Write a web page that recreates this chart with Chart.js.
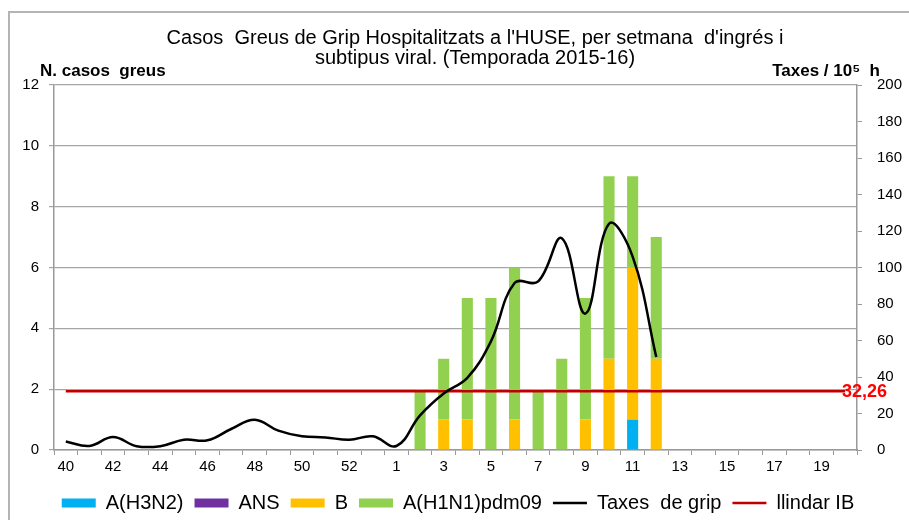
<!DOCTYPE html>
<html><head><meta charset="utf-8">
<script src="https://cdn.jsdelivr.net/npm/chart.js@4/dist/chart.umd.min.js"></script>
<style>html,body{margin:0;padding:0;background:#fff;overflow:hidden}#wrap{width:909px;height:520px;position:relative}</style>
</head><body><div id="wrap"><canvas id="c" width="909" height="520"></canvas></div>
<script>
const weeks = ['40','41','42','43','44','45','46','47','48','49','50','51','52','53',
  '1','2','3','4','5','6','7','8','9','10','11','12','13','14','15','16','17','18','19','20'];
const tickLabels = ['40','42','44','46','48','50','52','1','3','5','7','9','11','13','15','17','19'];
const seriesNames = ['A(H3N2)','ANS','B','A(H1N1)pdm09','Taxes  de grip','llindar IB'];
//                 40 41 42 43 44 45 46 47 48 49 50 51 52 53  1  2  3  4  5  6  7  8  9 10 11 12 13 14 15 16 17 18 19 20
const h3n2     = [ 0, 0, 0, 0, 0, 0, 0, 0, 0, 0, 0, 0, 0, 0, 0, 0, 0, 0, 0, 0, 0, 0, 0, 0, 1, 0, 0, 0, 0, 0, 0, 0, 0, 0];
const ans      = [ 0, 0, 0, 0, 0, 0, 0, 0, 0, 0, 0, 0, 0, 0, 0, 0, 0, 0, 0, 0, 0, 0, 0, 0, 0, 0, 0, 0, 0, 0, 0, 0, 0, 0];
const virusB   = [ 0, 0, 0, 0, 0, 0, 0, 0, 0, 0, 0, 0, 0, 0, 0, 0, 1, 1, 0, 1, 0, 0, 1, 3, 5, 3, 0, 0, 0, 0, 0, 0, 0, 0];
const h1n1     = [ 0, 0, 0, 0, 0, 0, 0, 0, 0, 0, 0, 0, 0, 0, 0, 2, 2, 4, 5, 5, 2, 3, 4, 6, 3, 4, 0, 0, 0, 0, 0, 0, 0, 0];
const taxes    = [4.7, 2.2, 7.1, 2.1, 2.1, 5.6, 5.3, 11.5, 16.6, 10.6, 7.5, 6.9, 5.6, 7.5,
                  2.2, 19, 31, 39.5, 59.5, 91.5, 92.4, 116, 74.7, 124, 106, 51,
                  null, null, null, null, null, null, null, null];
const llindar  = [32.26, 32.26, 32.26, 32.26, 32.26, 32.26, 32.26, 32.26, 32.26, 32.26, 32.26, 32.26, 32.26, 32.26,
                  32.26, 32.26, 32.26, 32.26, 32.26, 32.26, 32.26, 32.26, 32.26, 32.26, 32.26, 32.26, 32.26, 32.26,
                  32.26, 32.26, 32.26, 32.26, 32.26, 32.26];
const llindarLabel = '32,26';
const titleLines = ["Casos  Greus de Grip Hospitalitzats a l'HUSE, per setmana  d'ingrés i", "subtipus viral. (Temporada 2015-16)"];
const leftTitle = 'N. casos  greus';
const rightTitle = 'Taxes / 10\u2075  h';

const FAM = '"Liberation Sans", Arial, sans-serif';
Chart.defaults.font.family = FAM;
Chart.defaults.color = '#000';

const decor = {
  id: 'decor',
  beforeDraw(chart) {
    const ctx = chart.ctx;
    ctx.save();
    ctx.strokeStyle = '#b4b4b4';
    ctx.lineWidth = 2;
    ctx.beginPath();
    ctx.moveTo(909, 12); ctx.lineTo(9, 12); ctx.lineTo(9, 520);
    ctx.stroke();
    ctx.restore();
  },
  afterDraw(chart) {
    const ctx = chart.ctx;
    ctx.save();
    ctx.fillStyle = '#000';
    ctx.textBaseline = 'middle';
    ctx.textAlign = 'center';
    ctx.font = '20px ' + FAM;
    ctx.fillText(titleLines[0], 475, 38);
    ctx.fillText(titleLines[1], 475, 58);
    ctx.font = 'bold 17px ' + FAM;
    ctx.textAlign = 'left';
    ctx.fillText(leftTitle, 40, 71);
    ctx.textAlign = 'right';
    ctx.fillText(rightTitle, 880, 71);
    const y1 = chart.scales.y1;
    ctx.fillStyle = '#ff0000';
    ctx.textAlign = 'left';
    ctx.font = 'bold 18px ' + FAM;
    ctx.fillText(llindarLabel, 842, y1.getPixelForValue(llindar[0]) + 1);
    ctx.restore();
  }
};

const barCommon = {type: 'bar', yAxisID: 'y', barPercentage: 0.47, categoryPercentage: 1, borderWidth: 0, order: 1, pointStyle: 'rect'};
new Chart(document.getElementById('c'), {
  type: 'bar',
  data: {
    labels: weeks,
    datasets: [
      Object.assign({label: seriesNames[0], data: h3n2, backgroundColor: '#00b0f0', borderColor: '#00b0f0'}, barCommon),
      Object.assign({label: seriesNames[1], data: ans, backgroundColor: '#7030a0', borderColor: '#7030a0'}, barCommon),
      Object.assign({label: seriesNames[2], data: virusB, backgroundColor: '#ffc000', borderColor: '#ffc000'}, barCommon),
      Object.assign({label: seriesNames[3], data: h1n1, backgroundColor: '#92d050', borderColor: '#92d050'}, barCommon),
      {type: 'line', label: seriesNames[4], data: taxes, yAxisID: 'y1', borderColor: '#000', backgroundColor: '#000',
       borderWidth: 2.5, pointRadius: 0, tension: 0.4, fill: false, order: 0, pointStyle: 'line'},
      {type: 'line', label: seriesNames[5], data: llindar, yAxisID: 'y1', borderColor: '#c00000', backgroundColor: '#c00000',
       borderWidth: 2.5, pointRadius: 0, tension: 0, fill: false, order: 0, pointStyle: 'line'}
    ]
  },
  options: {
    responsive: false,
    animation: false,
    events: [],
    layout: {padding: {left: 7, right: 0, top: 85, bottom: -3}},
    plugins: {
      title: {display: false},
      tooltip: {enabled: false},
      legend: {
        position: 'bottom',
        labels: {
          usePointStyle: true, pointStyleWidth: 34, boxHeight: 9, padding: 11, color: '#000',
          font: {size: 20, family: FAM},
          sort: (a, b) => a.datasetIndex - b.datasetIndex
        }
      }
    },
    scales: {
      x: {
        stacked: true,
        grid: {display: true, drawOnChartArea: false, drawTicks: true, tickLength: 5, offset: true, color: '#999', lineWidth: 1},
        border: {display: true, color: '#999', width: 1.5},
        ticks: {autoSkip: false, maxRotation: 0, minRotation: 0, padding: 3, color: '#000', font: {size: 15},
          callback: function(v, i) { const w = weeks[i]; return tickLabels.includes(w) ? w : ''; }},
        afterFit: s => { s.height = 32; }
      },
      y: {
        position: 'left', stacked: true, min: 0, max: 12,
        ticks: {stepSize: 2, padding: 10, color: '#000', font: {size: 15}},
        grid: {color: '#a6a6a6', lineWidth: 1.2, tickLength: 5},
        border: {display: true, color: '#999', width: 1.5},
        afterFit: s => { s.width = 47; }
      },
      y1: {
        position: 'right', stacked: false, min: 0, max: 200,
        ticks: {stepSize: 20, padding: 15, color: '#000', font: {size: 15}},
        grid: {drawOnChartArea: false, tickLength: 5, color: '#999'},
        border: {display: true, color: '#999', width: 1.5},
        afterFit: s => { s.width = 52; }
      }
    }
  },
  plugins: [decor]
});
</script>
</body></html>
